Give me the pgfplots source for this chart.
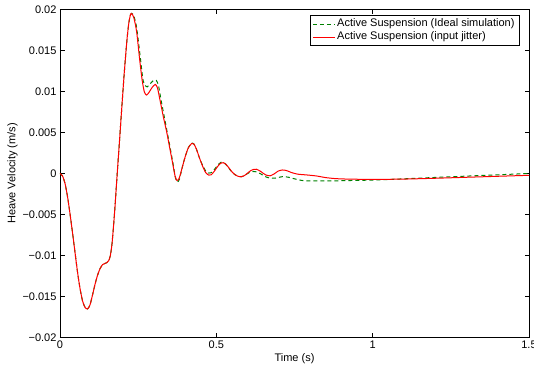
\documentclass[border=0pt]{standalone}
\usepackage{fontspec}
\setmainfont{Liberation Sans}
\usepackage{pgfplots}
\pgfplotsset{compat=1.18}
\definecolor{mgreen}{rgb}{0,0.5,0}
\begin{document}
\begin{tikzpicture}
\begin{axis}[
  scale only axis,
  width=469pt, height=328.4pt,
  xmin=0, xmax=1.5, ymin=-20, ymax=20,
  xtick={0,0.5,1,1.5}, xticklabels={0,0.5,1,1.5},
  ytick={-20,-15,-10,-5,0,5,10,15,20},
  yticklabels={−0.02,−0.015,−0.01,−0.005,0,0.005,0.01,0.015,0.02},
  tick align=inside, major tick length=4.5pt,
  tick style={black, line width=0.6pt},
  axis line style={black, line width=0.9pt},
  every tick label/.append style={font=\fontsize{11}{13}\selectfont},
  /pgf/number format/assume math mode=true,
  xlabel={Time (s)}, ylabel={Heave Velocity (m/s)},
  label style={font=\fontsize{11}{13}\selectfont},
  xlabel style={yshift=2.5pt},
  ylabel style={yshift=-2pt},
]
\coordinate (bl) at (rel axis cs:0,0);
\coordinate (tr) at (rel axis cs:1,1);
\addplot[mgreen, line width=1pt, dash pattern=on 4pt off 3pt, smooth, tension=0.4] coordinates {
(0,0) (0.008,-0.3) (0.016,-1.2) (0.024,-2.8) (0.032,-4.9) (0.040,-7.2) (0.048,-9.6)
(0.056,-12.0) (0.064,-14.0) (0.072,-15.5) (0.080,-16.3) (0.088,-16.5) (0.096,-16.0)
(0.104,-14.8) (0.112,-13.5) (0.120,-12.4) (0.128,-11.6) (0.136,-11.1) (0.144,-10.95)
(0.150,-10.85) (0.156,-10.6) (0.161,-10.0) (0.166,-8.7) (0.171,-6.5) (0.176,-4.0)
(0.180,-1.7) (0.185,1.1) (0.190,3.8) (0.195,6.6) (0.200,9.3) (0.205,12.0) (0.210,14.4)
(0.215,16.6) (0.220,18.3) (0.225,19.3) (0.229,19.5) (0.236,19.2) (0.245,17.8)
(0.256,14.4) (0.265,11.5) (0.272,10.7) (0.279,10.55) (0.288,10.9) (0.298,11.3)
(0.308,11.35) (0.315,10.7) (0.322,9.2) (0.332,7.2) (0.342,5.2) (0.352,3.2) (0.362,1.1)
(0.369,-0.5) (0.375,-1.05) (0.382,-0.7) (0.390,0.6) (0.400,2.0) (0.410,3.1)
(0.420,3.7) (0.428,3.6) (0.436,3.0) (0.446,1.9) (0.456,1.0) (0.466,0.3) (0.476,0.05)
(0.484,0.1) (0.494,0.5) (0.504,1.0) (0.514,1.35) (0.520,1.4) (0.528,1.2) (0.538,0.75)
(0.548,0.25) (0.558,-0.1) (0.568,-0.3) (0.578,-0.4) (0.588,-0.3) (0.598,-0.05)
(0.608,0.15) (0.618,0.25) (0.628,0.2) (0.640,0.0) (0.655,-0.35) (0.670,-0.55)
(0.690,-0.55) (0.712,-0.38) (0.730,-0.45) (0.750,-0.65) (0.778,-0.87) (0.820,-0.9)
(0.870,-0.9) (0.920,-0.86) (1.000,-0.8) (1.100,-0.65) (1.200,-0.48) (1.300,-0.32)
(1.400,-0.16) (1.500,0.0)
};
\addplot[red, line width=1pt, smooth, tension=0.4] coordinates {
(0,0) (0.008,-0.3) (0.016,-1.2) (0.024,-2.8) (0.032,-4.9) (0.040,-7.2) (0.048,-9.6)
(0.056,-12.0) (0.064,-14.0) (0.072,-15.5) (0.080,-16.3) (0.088,-16.5) (0.096,-16.0)
(0.104,-14.8) (0.112,-13.5) (0.120,-12.4) (0.128,-11.6) (0.136,-11.1) (0.144,-10.95)
(0.150,-10.85) (0.156,-10.6) (0.161,-10.0) (0.166,-8.7) (0.171,-6.5) (0.176,-4.0)
(0.180,-1.7) (0.185,1.1) (0.190,3.8) (0.195,6.6) (0.200,9.3) (0.205,12.0) (0.210,14.4)
(0.215,16.6) (0.220,18.3) (0.225,19.3) (0.229,19.5) (0.236,19.0) (0.245,17.3)
(0.255,13.8) (0.263,11.3) (0.270,9.9) (0.277,9.55) (0.285,9.9) (0.295,10.5)
(0.305,10.85) (0.312,10.4) (0.320,8.9) (0.330,7.0) (0.341,5.1) (0.350,3.3) (0.360,1.3)
(0.368,-0.3) (0.374,-0.85) (0.381,-0.6) (0.390,0.6) (0.400,2.0) (0.410,3.1)
(0.421,3.65) (0.428,3.6) (0.436,3.0) (0.446,1.9) (0.456,0.9) (0.466,0.1) (0.476,-0.2)
(0.484,-0.15) (0.494,0.3) (0.504,0.85) (0.514,1.25) (0.522,1.32) (0.530,1.15)
(0.540,0.7) (0.550,0.2) (0.560,-0.15) (0.570,-0.35) (0.580,-0.4) (0.590,-0.25)
(0.600,0.05) (0.610,0.35) (0.620,0.5) (0.628,0.52) (0.640,0.3) (0.650,0.02)
(0.660,-0.2) (0.672,-0.28) (0.685,-0.05) (0.698,0.3) (0.712,0.43) (0.725,0.35)
(0.740,0.12) (0.760,-0.08) (0.790,-0.18) (0.820,-0.3) (0.850,-0.5) (0.880,-0.62)
(0.920,-0.68) (1.000,-0.72) (1.100,-0.68) (1.200,-0.58) (1.300,-0.46) (1.400,-0.34)
(1.500,-0.22)
};
% legend (drawn by hand so that its sample lines keep their colours)
\draw[black, line width=0.7pt, fill=white] (rel axis cs:0.533,0.9827) rectangle (rel axis cs:0.979,0.8913);
\draw[mgreen, line width=1pt, dash pattern=on 4pt off 3pt] (rel axis cs:0.5394,0.9552) -- (rel axis cs:0.5864,0.9552);
\draw[red, line width=1pt] (rel axis cs:0.5394,0.9147) -- (rel axis cs:0.5864,0.9147);
\node[anchor=mid west, inner sep=0pt, font=\fontsize{11}{12}\selectfont] at (rel axis cs:0.5906,0.9552) {Active Suspension (Ideal simulation)};
\node[anchor=mid west, inner sep=0pt, font=\fontsize{11}{12}\selectfont] at (rel axis cs:0.5906,0.9147) {Active Suspension (input jitter)};
\end{axis}
\pgfresetboundingbox
\path[use as bounding box] ([shift={(-60pt,-28.3pt)}]bl) rectangle ([shift={(5pt,9.3pt)}]tr);
\end{tikzpicture}
\end{document}
